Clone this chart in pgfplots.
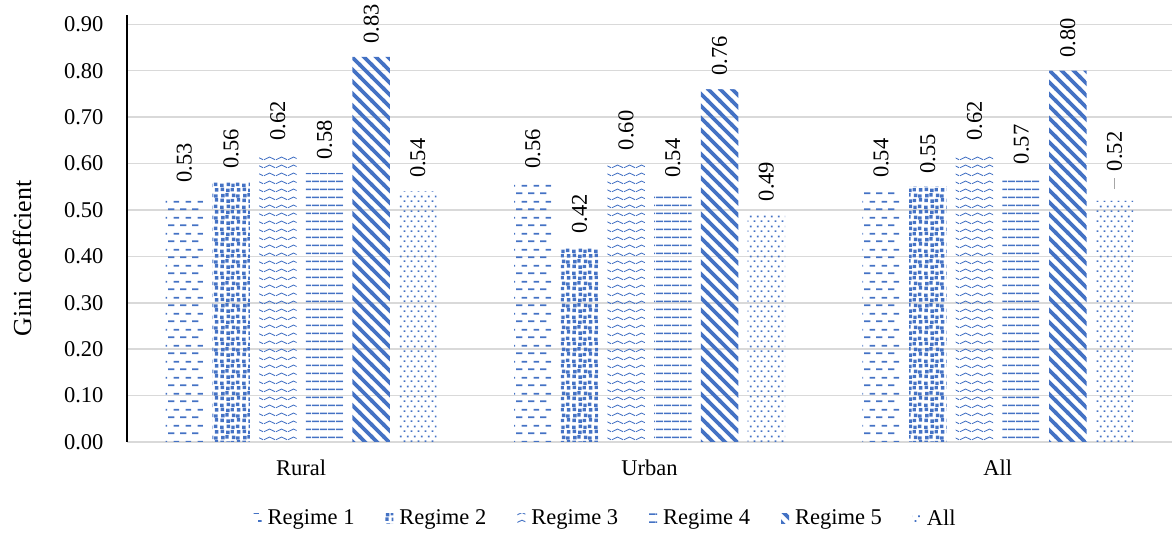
\documentclass[border=0pt]{standalone}
\usepackage{fontspec}
\setmainfont{Liberation Serif}
\usepackage{pgfplots}
\pgfplotsset{compat=1.18}
\usepackage{pgfplotstable}
\usetikzlibrary{patterns}

\definecolor{regblue}{HTML}{4472C4}
\definecolor{gridgray}{HTML}{D9D9D9}

% small square used by the confetti pattern
\newcommand{\sq}[2]{\pgfpathrectangle{\pgfpoint{#1pt}{#2pt}}{\pgfpoint{1.8pt}{1.8pt}}}

% Fill patterns for the six series
\pgfdeclarepatternformonly{dashrows}{\pgfpointorigin}{\pgfpoint{6pt}{8pt}}{\pgfpoint{6pt}{8pt}}{%
  \pgfsetlinewidth{0.9pt}%
  \pgfpathmoveto{\pgfpoint{0pt}{2pt}}\pgfpathlineto{\pgfpoint{3.4pt}{2pt}}%
  \pgfpathmoveto{\pgfpoint{3pt}{6pt}}\pgfpathlineto{\pgfpoint{6pt}{6pt}}%
  \pgfusepath{stroke}}

\pgfdeclarepatternformonly{confetti}{\pgfpointorigin}{\pgfpoint{11pt}{11pt}}{\pgfpoint{11pt}{11pt}}{%
  \sq{0.2}{0.5}\sq{3.35}{0.1}\sq{5.6}{0.4}\sq{8.75}{0.7}%
  \sq{0.6}{2.95}\sq{2.75}{3.35}\sq{6.2}{3.05}\sq{8.45}{2.75}%
  \sq{0.3}{6.2}\sq{3.25}{5.7}\sq{5.5}{6.0}\sq{8.85}{5.9}%
  \sq{0.1}{8.35}\sq{3.45}{8.75}\sq{5.9}{8.25}\sq{8.25}{8.85}%
  \pgfusepath{fill}}

\pgfdeclarepatternformonly{waverows}{\pgfpointorigin}{\pgfpoint{6pt}{3.8pt}}{\pgfpoint{6pt}{3.8pt}}{%
  \pgfsetlinewidth{0.45pt}%
  \pgfpathmoveto{\pgfpoint{0pt}{1.2pt}}%
  \pgfpathcurveto{\pgfpoint{1pt}{1.2pt}}{\pgfpoint{2pt}{2.6pt}}{\pgfpoint{3pt}{2.6pt}}%
  \pgfpathcurveto{\pgfpoint{4pt}{2.6pt}}{\pgfpoint{5pt}{1.2pt}}{\pgfpoint{6pt}{1.2pt}}%
  \pgfusepath{stroke}}

\pgfdeclarepatternformonly{hrows}{\pgfpointorigin}{\pgfpoint{4pt}{3.85pt}}{\pgfpoint{4pt}{3.85pt}}{%
  \pgfpathrectangle{\pgfpoint{0pt}{1.5pt}}{\pgfpoint{4pt}{0.8pt}}%
  \pgfusepath{fill}}

\pgfdeclarepatternformonly{diagstripes}{\pgfpoint{-1pt}{-1pt}}{\pgfpoint{7pt}{7pt}}{\pgfpoint{6pt}{6pt}}{%
  \pgfsetlinewidth{1.8pt}%
  \pgfpathmoveto{\pgfpoint{-1pt}{7pt}}\pgfpathlineto{\pgfpoint{7pt}{-1pt}}%
  \pgfusepath{stroke}}

\pgfdeclarepatternformonly{dotgrid}{\pgfpointorigin}{\pgfpoint{3.6pt}{5pt}}{\pgfpoint{3.6pt}{5pt}}{%
  \pgfpathrectangle{\pgfpoint{0.4pt}{0.6pt}}{\pgfpoint{0.9pt}{0.9pt}}%
  \pgfpathrectangle{\pgfpoint{2.2pt}{3.1pt}}{\pgfpoint{0.9pt}{0.9pt}}%
  \pgfusepath{fill}}

% Gini coefficients by area (0 = Rural, 1 = Urban, 2 = All)
\pgfplotstableread{
x  r1    r2    r3    r4    r5    all   lbl
0  0.53  0.56  0.62  0.58  0.83  0.54  0.54
1  0.56  0.42  0.60  0.54  0.76  0.49  0.49
2  0.54  0.55  0.62  0.57  0.80  0.52  {}
}\ginidata

\newcommand{\chartfont}{\fontsize{11.25}{13}\selectfont}

\begin{document}
\begin{tikzpicture}
\useasboundingbox (-63.5pt,-45.5pt) rectangle (522.5pt,221pt);
\begin{axis}[
  at={(0pt,0pt)}, anchor=south west,
  scale only axis, width=522.5pt, height=213.5pt,
  xmin=-0.5, xmax=2.5, ymin=0, ymax=0.92,
  clip=false,
  ybar=4.6pt, bar width=18.75pt,
  xtick={0,1,2}, xticklabels={Rural,Urban,All},
  ytick={0,0.1,0.2,0.3,0.4,0.5,0.6,0.7,0.8,0.9},
  /pgf/number format/.cd, fixed, fixed zerofill, precision=2, assume math mode=true, /pgfplots/.cd,
  ymajorgrids, grid style={gridgray, line width=0.75pt},
  axis x line*=bottom, axis y line*=left,
  x axis line style={gridgray, line width=0.75pt, -},
  y axis line style={black, line width=0.6pt, -},
  major tick length=0pt,
  tick label style={font=\chartfont},
  yticklabel style={xshift=-8.25pt},
  xticklabel style={yshift=-5.5pt},
  ylabel={Gini coeffcient},
  ylabel style={at={(axis description cs:-0.1005,0.43)}, anchor=center, font=\fontsize{13}{15}\selectfont},
  nodes near coords,
  nodes near coords style={font=\chartfont, yshift=6.5pt, rotate=90, anchor=west, inner sep=0pt},
  legend columns=6,
  legend style={at={(axis description cs:0.459,-0.180)}, anchor=center, draw=none, font=\chartfont,
    /tikz/every even column/.append style={column sep=13.5pt}},
  legend image code/.code={\path[#1, draw=none] (0pt,-2.5pt) rectangle (4pt,2.5pt); \path (5pt,0pt);},
]
\addplot[draw=none, pattern=dashrows, pattern color=regblue] table[x=x, y=r1] {\ginidata};
\addplot[draw=none, pattern=confetti, pattern color=regblue] table[x=x, y=r2] {\ginidata};
\addplot[draw=none, pattern=waverows, pattern color=regblue] table[x=x, y=r3] {\ginidata};
\addplot[draw=none, pattern=hrows, pattern color=regblue] table[x=x, y=r4] {\ginidata};
\addplot[draw=none, pattern=diagstripes, pattern color=regblue] table[x=x, y=r5] {\ginidata};
\addplot[draw=none, pattern=dotgrid, pattern color=regblue,
  point meta=explicit symbolic, nodes near coords={\pgfplotspointmeta}]
  table[x=x, y=all, meta=lbl] {\ginidata};
\legend{Regime 1, Regime 2, Regime 3, Regime 4, Regime 5, All}
% label of the last bar sits higher, joined by a leader line
\draw[gray!70, line width=0.6pt] (axis cs:2.3352,0.545) -- (axis cs:2.3352,0.568);
\node[font=\chartfont, rotate=90, anchor=west, inner sep=0pt] at (axis cs:2.3352,0.583) {0.52};
\end{axis}
\end{tikzpicture}
\end{document}
